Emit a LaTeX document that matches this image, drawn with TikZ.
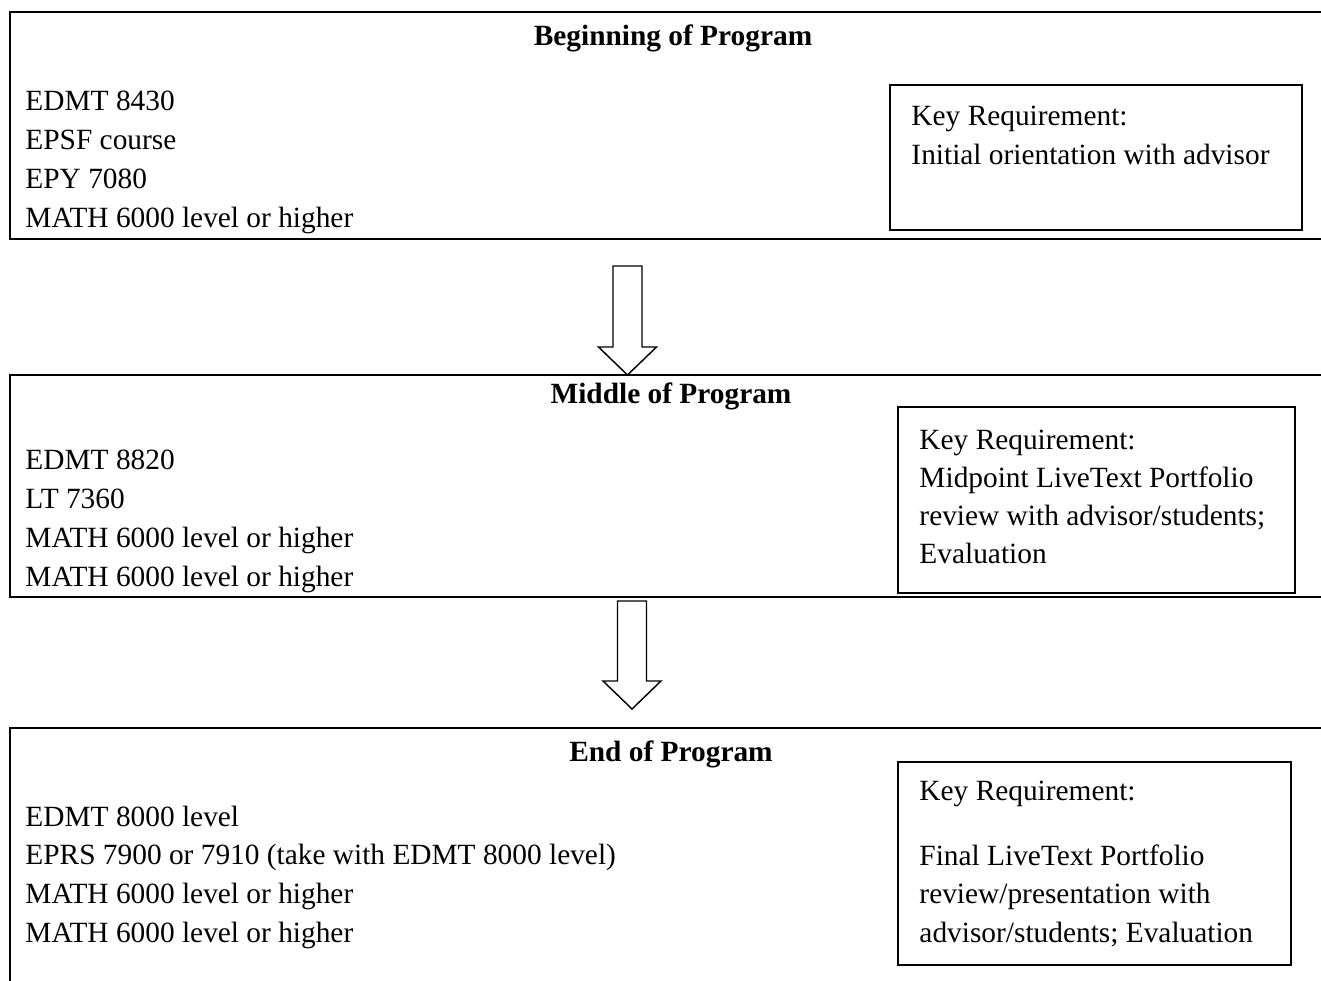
\documentclass[tikz,border=0pt]{standalone}
\usepackage{fontspec}
\setmainfont{Liberation Serif}
\usetikzlibrary{calc}
\tikzset{
  stage/.style={draw,line width=0.85pt},
  keybox/.style={draw,line width=0.6pt},
  item/.style={anchor=base west,inner sep=0pt,font=\fontsize{12.15}{14}\selectfont},
  title/.style={anchor=base,inner sep=0pt,font=\fontsize{12.15}{14}\selectfont\bfseries},
  hollow/.style={draw,line width=0.6pt,fill=white,line join=miter},
}
% hollow block arrow from #1 (tail) to #2 (tip)
\newcommand{\fatarrow}[2]{%
  \draw[hollow] ($(#1)+(-14.5,0)$) -- ($(#2)+(-14.5,-28)$) -- ($(#2)+(-29,-28)$) -- (#2)
    -- ($(#2)+(29,-28)$) -- ($(#2)+(14.5,-28)$) -- ($(#1)+(14.5,0)$) -- cycle;}
\begin{document}
\begin{tikzpicture}[x=0.4138pt,y=-0.4138pt]
  \useasboundingbox (0,0) rectangle (1321,981);
  \clip (0,0) rectangle (1321,981);
  % stages
  \draw[stage] (10,12) rectangle (1340,239);
  \draw[stage] (10,375) rectangle (1340,597);
  \draw[stage] (10,728) rectangle (1340,1010);
  \node[title] (begtitle) at (673,46) {Beginning of Program};
  \node[title] (midtitle) at (671,404) {Middle of Program};
  \node[title] (endtitle) at (671,761) {End of Program};
  % courses
  \foreach \t [count=\i from 0] in {EDMT 8430,EPSF course,EPY 7080,MATH 6000 level or higher}
    \node[item] (beg\i) at (25,111+38.7*\i) {\t};
  \foreach \t [count=\i from 0] in {EDMT 8820,LT 7360,MATH 6000 level or higher,MATH 6000 level or higher}
    \node[item] (mid\i) at (25,470+38.7*\i) {\t};
  \foreach \t [count=\i from 0] in {EDMT 8000 level,EPRS 7900 or 7910 (take with EDMT 8000 level),MATH 6000 level or higher,MATH 6000 level or higher}
    \node[item] (end\i) at (25,826+38.7*\i) {\t};
  % key requirements
  \draw[keybox] (890,85) rectangle (1302,230);
  \node[item] (begkey) at (911,126) {Key Requirement:};
  \node[item] (begreq) at (911,165) {Initial orientation with advisor};
  \draw[keybox] (898,407) rectangle (1295,593);
  \foreach \t [count=\i from 0] in {Key Requirement:,Midpoint LiveText Portfolio,review with advisor/students;,Evaluation}
    \node[item] (midkey\i) at (919,450+38*\i) {\t};
  \draw[keybox] (898,762) rectangle (1291,965);
  \node[item] (endkey) at (919,800) {Key Requirement:};
  \foreach \t [count=\i from 0] in {Final LiveText Portfolio,review/presentation with,advisor/students; Evaluation}
    \node[item] (endreq\i) at (919,865+38.5*\i) {\t};
  % arrows
  \coordinate (arrA) at (627.5,266);
  \coordinate (tipA) at (627.5,375);
  \coordinate (arrB) at (632,601);
  \coordinate (tipB) at (632,709);
  \fatarrow{arrA}{tipA}
  \fatarrow{arrB}{tipB}
\end{tikzpicture}
\end{document}
